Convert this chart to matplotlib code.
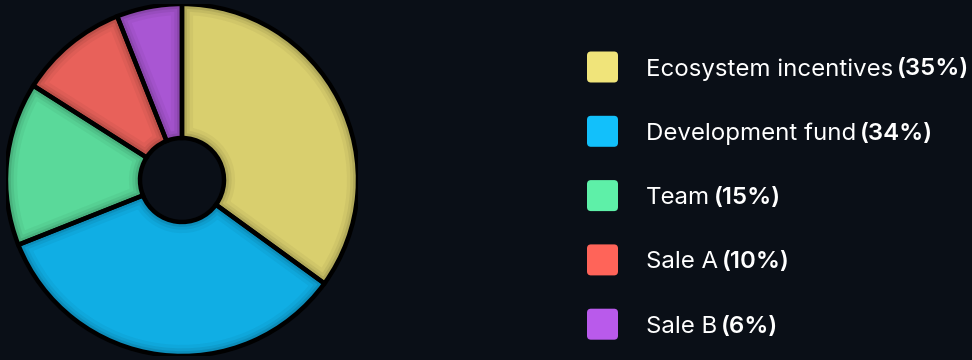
import matplotlib
matplotlib.use("Agg")
import matplotlib.pyplot as plt
from matplotlib.patches import FancyBboxPatch, PathPatch

labels = ["Ecosystem incentives", "Development fund", "Team", "Sale A", "Sale B"]
shares = [35, 34, 15, 10, 6]
pie_colors = ["#d9cf6e", "#10aee4", "#5ad99a", "#e8615a", "#a956d3"]
legend_colors = ["#f0e47a", "#12c0fb", "#5ef0a8", "#ff6459", "#b95aeb"]

BG = "#0a0f17"
W, H = 972, 360

fig = plt.figure(figsize=(W / 100, H / 100), dpi=100, facecolor=BG)

# donut
R_PX = 176
cx, cy = 182, 180
ax = fig.add_axes([(cx - R_PX) / W, (cy - R_PX) / H, 2 * R_PX / W, 2 * R_PX / H])
ax.set_facecolor(BG)
wedges, _ = ax.pie(shares, colors=pie_colors, startangle=90, counterclock=False,
                   radius=1.0, frame=True,
                   wedgeprops=dict(width=1 - 42 / R_PX, edgecolor="none"))
ax.set_xlim(-1, 1)
ax.set_ylim(-1, 1)
ax.set_aspect("equal")
ax.axis("off")


def outline(w, **kw):
    p = PathPatch(w.get_path(), transform=w.get_patch_transform() + ax.transData,
                  fill=False, **kw)
    ax.add_patch(p)
    return p


# soft inner shadow along every wedge border
for w in wedges:
    for lw, a in [(16, 0.04), (11, 0.06), (7, 0.09)]:
        sh = outline(w, edgecolor="black", lw=lw, alpha=a)
        sh.set_clip_path(w)
for w in wedges:
    outline(w, edgecolor="black", lw=3.2, joinstyle="miter")

# legend
lax = fig.add_axes([0, 0, 1, 1])
lax.set_xlim(0, W)
lax.set_ylim(H, 0)
lax.axis("off")
lax.patch.set_alpha(0)

row_y0, row_dy = 67, 64.3
sq = 31
fs = 17.3
fig.canvas.draw()
r = fig.canvas.get_renderer()
for i, (lab, val, col) in enumerate(zip(labels, shares, legend_colors)):
    y = row_y0 + i * row_dy
    box = FancyBboxPatch((587 + 4, y - sq / 2 + 4), sq - 8, sq - 8,
                         boxstyle="round,pad=4", facecolor=col, edgecolor="none")
    lax.add_patch(box)
    t = lax.text(646, y, lab, color="white", fontsize=fs,
                 family="Inter", va="center_baseline", ha="left")
    bb = t.get_window_extent(renderer=r)
    inv = lax.transData.inverted()
    x1 = inv.transform((bb.x1, bb.y0))[0] + 4
    lax.text(x1, y, f"({val}%)", color="white", fontsize=fs,
             family="Inter", fontweight="semibold", va="center_baseline", ha="left")

fig.savefig("out.png", dpi=100, facecolor=BG)
